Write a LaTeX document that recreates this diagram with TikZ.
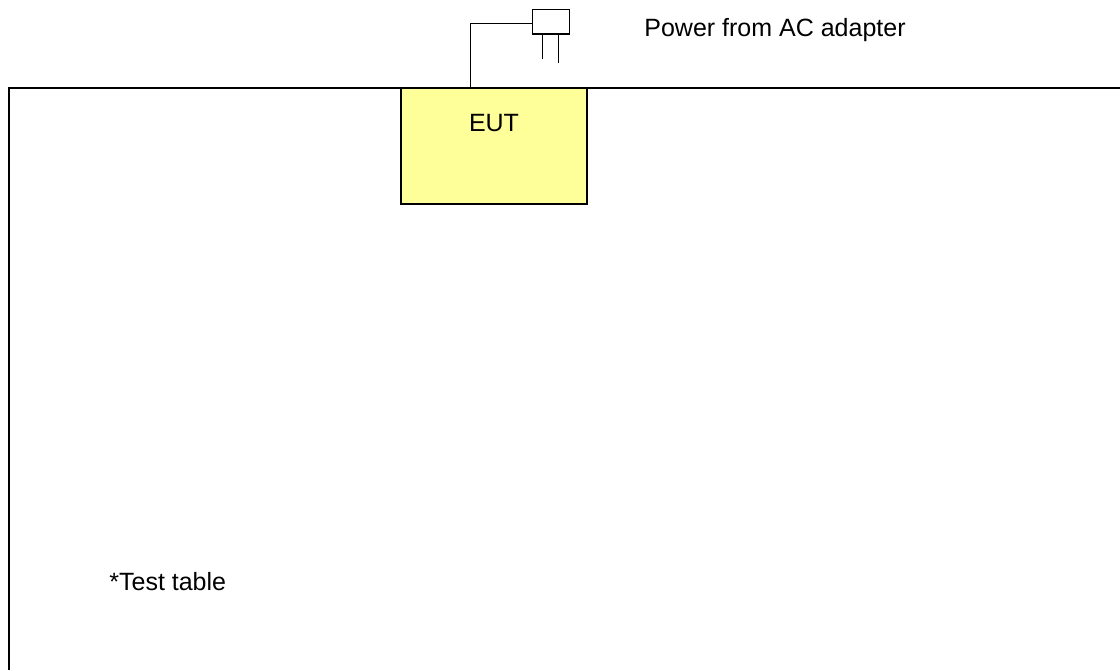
\documentclass[tikz,border=0pt]{standalone}
\usepackage{fontspec}
\setmainfont{Liberation Sans}
\usepackage{xcolor}
\usetikzlibrary{positioning}
\definecolor{eutyellow}{HTML}{FFFF99}

\tikzset{
  tableedge/.style={line width=1pt},
  eutbox/.style={draw,line width=1pt,fill=eutyellow,minimum width=93pt,minimum height=58pt,inner sep=0pt},
  plugbox/.style={draw,line width=0.7pt,minimum width=18.5pt,minimum height=12.2pt,inner sep=0pt},
  wire/.style={line width=0.7pt},
  lbl/.style={inner sep=0pt,font=\fontsize{12.5}{14}\selectfont}
}

\begin{document}
\begin{tikzpicture}[x=0.5pt,y=-0.5pt]
    \useasboundingbox (0,0) rectangle (1120,670);
    \coordinate (tl) at (9,88);
    \coordinate (tr) at (1120,88);
    \coordinate (bl) at (9,670);
    \draw[tableedge] (bl) -- (tl) -- (tr);
    \node[eutbox] (eut) at (494,146) {};
    \node[lbl,anchor=base] (euttext) at (494,131.7) {EUT};
    \node[plugbox] (plug) at (551.2,21.85) {};
    \coordinate (cable) at (470.7,88);
    \coordinate (bend) at (470.7,23.7);
    \draw[wire] (cable) -- (bend) -- (bend -| plug.west);
    \draw[wire] ([xshift=5.3pt]plug.south west) -- ++(0,24);
    \draw[wire] ([xshift=13.15pt]plug.south west) -- ++(0,28);
    \node[lbl,anchor=base west] (power) at (644,36.7) {Power from AC adapter};
    \node[lbl,anchor=base west] (table) at (109,590.7) {*Test table};
  \end{tikzpicture}
\end{document}
